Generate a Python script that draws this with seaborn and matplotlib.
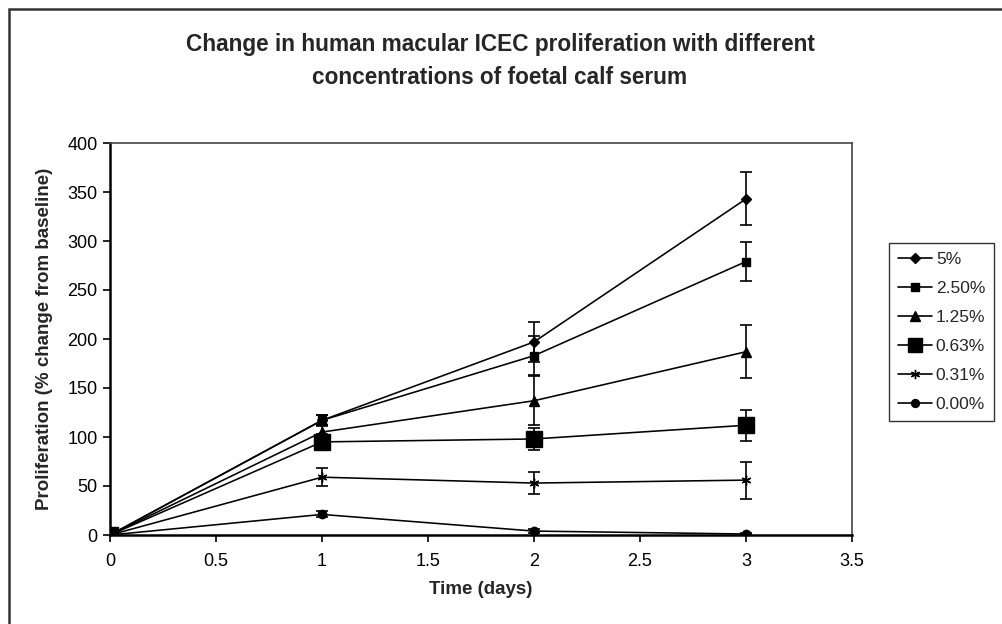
import matplotlib
matplotlib.use("Agg")
import matplotlib.pyplot as plt
from matplotlib.lines import Line2D
from matplotlib.patches import Rectangle
import numpy as np
import pandas as pd
import seaborn as sns

days = [0, 1, 2, 3]
labels = ["5%", "2.50%", "1.25%", "0.63%", "0.31%", "0.00%"]

fcs_5 = [0, 117, 197, 343]
fcs_250 = [0, 117, 183, 279]
fcs_125 = [0, 105, 137, 187]
fcs_063 = [0, 95, 98, 112]
fcs_031 = [0, 59, 53, 56]
fcs_000 = [0, 21, 4, 1]

err_5 = [0, 5, 20, 27]
err_250 = [0, 5, 20, 20]
err_125 = [0, 6, 25, 27]
err_063 = [0, 8, 11, 16]
err_031 = [0, 9, 11, 19]
err_000 = [0, 3, 2, 1]

values = [fcs_5, fcs_250, fcs_125, fcs_063, fcs_031, fcs_000]
errors = [err_5, err_250, err_125, err_063, err_031, err_000]

markers = ["D", "s", "^", "s", (6, 2, 0), "o"]
msizes = [5, 6, 7, 11, 7, 6]

sns.set_style("white")
plt.rcParams["font.family"] = ["Liberation Sans", "DejaVu Sans"]

fig = plt.figure(figsize=(10.03, 6.24), dpi=100)
ax = fig.add_axes([110 / 1003, 89 / 624, 742 / 1003, 392 / 624])

handles = []
for lab, vals, errs, mk, ms in zip(labels, values, errors, markers, msizes):
    df = pd.DataFrame({"Time": days, "Value": vals})
    sns.lineplot(data=df, x="Time", y="Value", ax=ax, color="black", lw=1.15,
                 marker=mk, markersize=ms, markeredgecolor="black",
                 markerfacecolor="black", markeredgewidth=1.0)
    ax.errorbar(days[1:], vals[1:], yerr=errs[1:], fmt="none", ecolor="black",
                elinewidth=1.2, capsize=4.5, capthick=1.2)
    handles.append(Line2D([0], [0], color="black", lw=1.2, marker=mk,
                          markersize=ms * 0.95, markerfacecolor="black",
                          markeredgecolor="black"))

ax.set_xlim(0, 3.5)
ax.set_ylim(0, 400)
ax.set_xticks(np.arange(0, 3.51, 0.5))
ax.set_xticklabels(["0", "0.5", "1", "1.5", "2", "2.5", "3", "3.5"])
ax.set_yticks(np.arange(0, 401, 50))
ax.tick_params(axis="both", direction="out", length=5, width=1.2, colors="black",
               labelsize=13, bottom=True, left=True)
ax.tick_params(axis="x", pad=8)
ax.tick_params(axis="y", pad=4)
for side in ["top", "right"]:
    ax.spines[side].set_color("#444444")
    ax.spines[side].set_linewidth(1.2)
for side in ["left", "bottom"]:
    ax.spines[side].set_color("black")
    ax.spines[side].set_linewidth(1.8)

ax.set_xlabel("Time (days)", fontsize=13.5, fontweight="bold", labelpad=8)
ax.set_ylabel("Proliferation (% change from baseline)", fontsize=13.5,
              fontweight="bold", labelpad=10)

fig.text(500 / 1003, 1 - 61 / 624,
         "Change in human macular ICEC proliferation with different\nconcentrations of foetal calf serum",
         ha="center", va="center", fontsize=16.3, fontweight="bold", linespacing=1.55)

leg = fig.legend(handles, labels, loc="upper left",
                 bbox_to_anchor=(889 / 1003, 1 - 243 / 624), frameon=True,
                 fancybox=False, edgecolor="black", fontsize=12.5,
                 handlelength=2.0, handletextpad=0.2, labelspacing=0.8,
                 borderpad=0.5, borderaxespad=0)
leg.get_frame().set_linewidth(1.0)

fig.patches.append(Rectangle((9 / 1003, -0.05), 1.2, 1 - 9 / 624 + 0.05,
                             transform=fig.transFigure, fill=False,
                             edgecolor="#333333", lw=1.8, zorder=0))

fig.savefig("out.png", dpi=100)
